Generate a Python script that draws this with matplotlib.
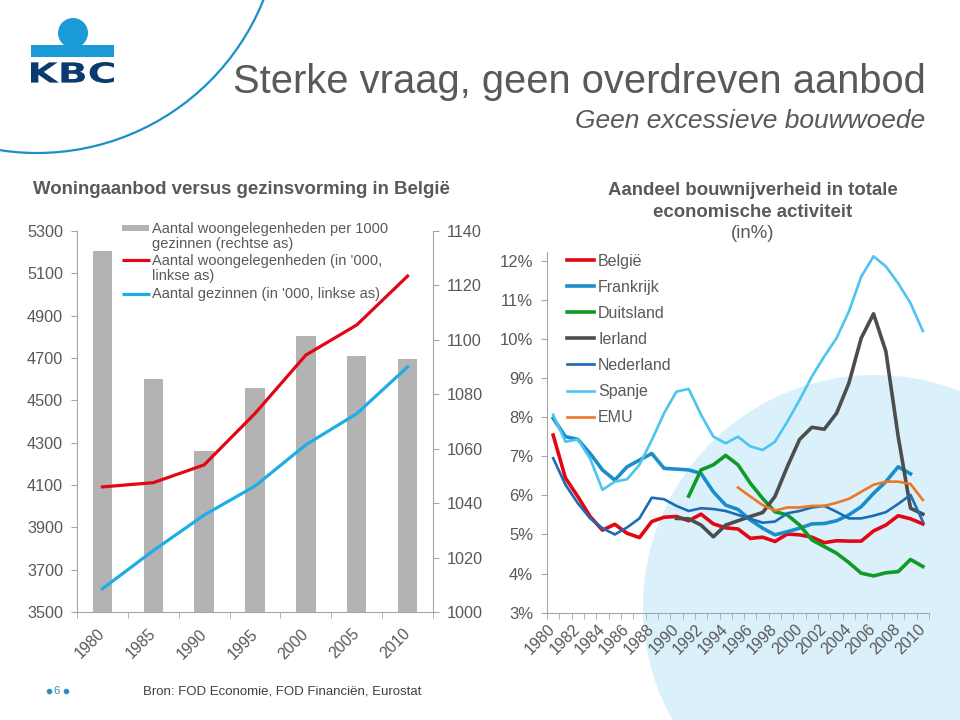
import matplotlib
matplotlib.use('Agg')
import matplotlib.pyplot as plt
import matplotlib.transforms as mtransforms
from matplotlib.patches import Circle, Rectangle, PathPatch
from matplotlib.textpath import TextPath
from matplotlib.font_manager import FontProperties
import numpy as np

plt.rcParams['font.family'] = ['Liberation Sans', 'DejaVu Sans']

TXT = '#595959'
AS_GRIJS = '#a6a6a6'

# --- links: woningaanbod versus gezinsvorming (per 5 jaar)
jaren_5 = ['1980', '1985', '1990', '1995', '2000', '2005', '2010']
per_1000_gezinnen = [1132.6, 1085.7, 1059.2, 1082.3, 1101.4, 1094.2, 1093.0]
woongelegenheden = [4091, 4111, 4195, 4438, 4714, 4856, 5087]
gezinnen = [3610, 3790, 3958, 4095, 4290, 4437, 4658]

# --- rechts: aandeel bouw in economische activiteit (%)
jaren = list(range(1980, 2011))
belgie = [7.54, 6.44, 5.97, 5.46, 5.11, 5.26, 5.03, 4.92, 5.33, 5.44,
          5.46, 5.35, 5.52, 5.27, 5.17, 5.14, 4.90, 4.93, 4.82, 5.01,
          4.99, 4.93, 4.79, 4.84, 4.83, 4.83, 5.09, 5.24, 5.48, 5.40, 5.27]
frankrijk = [7.97, 7.50, 7.43, 7.07, 6.65, 6.39, 6.73, 6.90, 7.07, 6.69,
             6.67, 6.65, 6.56, 6.09, 5.75, 5.64, 5.37, 5.16, 4.99, 5.07,
             5.16, 5.27, 5.28, 5.35, 5.50, 5.71, 6.05, 6.35, 6.73, 6.55, None]
duitsland = [None] * 11 + [
             5.98, 6.65, 6.78, 7.02, 6.78, 6.31, 5.92, 5.58, 5.50,
             5.24, 4.86, 4.69, 4.52, 4.28, 4.01, 3.94, 4.02, 4.05, 4.36, 4.18]
ierland = [None] * 10 + [
           5.41, 5.40, 5.24, 4.94, 5.24, 5.35, 5.46, 5.56, 5.97, 6.73,
           7.43, 7.74, 7.69, 8.10, 8.87, 10.02, 10.64, 9.68, 7.50, 5.67, 5.52]
nederland = [6.95, 6.27, 5.80, 5.41, 5.16, 5.00, 5.18, 5.41, 5.94, 5.90,
             5.73, 5.60, 5.67, 5.65, 5.60, 5.50, 5.40, 5.30, 5.33, 5.54,
             5.60, 5.69, 5.73, 5.58, 5.41, 5.41, 5.48, 5.57, 5.78, 6.01, 5.33]
spanje = [8.06, 7.37, 7.43, 6.94, 6.14, 6.35, 6.41, 6.78, 7.41, 8.10,
          8.65, 8.72, 8.06, 7.50, 7.33, 7.50, 7.25, 7.16, 7.37, 7.88,
          8.44, 9.04, 9.55, 10.02, 10.70, 11.59, 12.11, 11.85, 11.42, 10.91, 10.20]
emu = [None] * 15 + [
       6.20, 5.97, 5.75, 5.61, 5.69, 5.69, 5.73, 5.73, 5.81, 5.91,
       6.09, 6.27, 6.35, 6.35, 6.29, 5.88]

reeksen = [
    ('België', belgie, '#e30613', 2.6),
    ('Frankrijk', frankrijk, '#1b8ec9', 2.6),
    ('Duitsland', duitsland, '#109a26', 2.6),
    ('Ierland', ierland, '#4d4d4d', 2.6),
    ('Nederland', nederland, '#1d6cb3', 1.9),
    ('Spanje', spanje, '#4cc5ef', 1.9),
    ('EMU', emu, '#ee7624', 1.9),
]

ROOD = '#e30613'
CYAAN = '#1eaee6'
BALK = '#b3b3b3'

fig = plt.figure(figsize=(9.6, 7.2), dpi=100)


def fy(py):
    # pixel-y (van boven) naar figuurfractie
    return 1 - py / 720


# achtergrond in pixelcoordinaten: cirkels en logo
bg = fig.add_axes([0, 0, 1, 1], zorder=0)
bg.set_xlim(0, 960)
bg.set_ylim(720, 0)
bg.axis('off')
bg.add_patch(Circle((875, 607), 232, color='#daf1fb', lw=0))
bg.add_patch(Circle((37, -91), 244, fill=False, ec='#1b8fc6', lw=1.6))
bg.add_patch(Circle((73, 33), 15, color='#1a9ad6', lw=0))
bg.add_patch(Rectangle((31, 45), 83, 12, color='#1a9ad6', lw=0))
tp = TextPath((0, 0), 'KBC', prop=FontProperties(family='DejaVu Sans', weight='bold'))
ext = tp.get_extents()
tr = (mtransforms.Affine2D()
      .translate(-ext.x0, -ext.y0)
      .scale(83 / ext.width, -21 / ext.height)
      .translate(31, 83))
bg.add_patch(PathPatch(tr.transform_path(tp), color='#0b3a6e', lw=0))

# titels
fig.text(233 / 960, fy(93), 'Sterke vraag, geen overdreven aanbod',
         fontsize=28.7, color=TXT, ha='left', va='baseline')
fig.text(925 / 960, fy(128), 'Geen excessieve bouwwoede',
         fontsize=19, color=TXT, style='italic', ha='right', va='baseline')
fig.text(33 / 960, fy(194), 'Woningaanbod versus gezinsvorming in België',
         fontsize=13.4, color=TXT, fontweight='bold', ha='left', va='baseline')
fig.text(753 / 960, fy(195), 'Aandeel bouwnijverheid in totale',
         fontsize=13.4, color=TXT, fontweight='bold', ha='center', va='baseline')
fig.text(753 / 960, fy(217), 'economische activiteit',
         fontsize=13.4, color=TXT, fontweight='bold', ha='center', va='baseline')
fig.text(753 / 960, fy(238), '(in%)',
         fontsize=13.4, color=TXT, ha='center', va='baseline')

# voettekst
fig.text(143 / 960, fy(695), 'Bron: FOD Economie, FOD Financiën, Eurostat',
         fontsize=9.5, color='#404040', ha='left', va='baseline')
fig.text(57 / 960, fy(694), '6', fontsize=8, color='#2a8fc0',
         ha='center', va='baseline')
bg.plot([49, 66], [691, 691], 'o', ms=3, color='#2a8fc0')

# --- linker grafiek
ax_l = fig.add_axes([77 / 960, 108 / 720, 356 / 960, 381 / 720])
ax_r = ax_l.twinx()
ax_r.set_zorder(1)
ax_l.set_zorder(2)
ax_l.patch.set_visible(False)
ax_r.patch.set_visible(False)

x5 = np.arange(len(jaren_5))
ax_r.bar(x5, per_1000_gezinnen, width=0.38, color=BALK, zorder=1)
ax_r.set_ylim(1000, 1140)
ax_r.set_yticks(np.arange(1000, 1141, 20))

ax_l.plot(x5, woongelegenheden, color=ROOD, lw=2.3)
ax_l.plot(x5, gezinnen, color=CYAAN, lw=2.3)
ax_l.set_ylim(3500, 5300)
ax_l.set_yticks(np.arange(3500, 5301, 200))
ax_l.set_xlim(-0.5, 6.5)
ax_l.set_xticks(x5)
ax_l.set_xticklabels(jaren_5, rotation=45, ha='right', va='center',
                     rotation_mode='anchor')
ax_l.set_xticks(np.arange(-0.5, 7, 1), minor=True)
shift = mtransforms.ScaledTranslation(3 / 100, 0, fig.dpi_scale_trans)
for lbl in ax_l.get_xticklabels():
    lbl.set_transform(lbl.get_transform() + shift)

for a in (ax_l, ax_r):
    for s in a.spines.values():
        s.set_color(AS_GRIJS)
    a.spines['top'].set_visible(False)
ax_l.spines['right'].set_visible(False)
ax_r.spines['left'].set_visible(False)
ax_r.spines['bottom'].set_visible(False)

ax_l.tick_params(axis='y', direction='out', length=4, color=AS_GRIJS,
                 labelsize=11.7, labelcolor=TXT, pad=6)
ax_r.tick_params(axis='y', direction='out', length=4, color=AS_GRIJS,
                 labelsize=11.7, labelcolor=TXT, pad=6)
ax_l.tick_params(axis='x', which='major', length=0, labelsize=11.3,
                 labelcolor=TXT, pad=14)
ax_l.tick_params(axis='x', which='minor', direction='out', length=4,
                 color=AS_GRIJS)

# legende links, met de hand geplaatst (handle bij eerste regel)
leg_regels = [
    ('Aantal woongelegenheden per 1000', 233),
    ('gezinnen (rechtse as)', 248),
    ("Aantal woongelegenheden (in '000,", 265),
    ('linkse as)', 280),
    ("Aantal gezinnen (in '000, linkse as)", 298),
]
for tekst, basis in leg_regels:
    fig.text(152 / 960, fy(basis), tekst, fontsize=10.5, color=TXT,
             ha='left', va='baseline')
bg.add_patch(Rectangle((122, 225), 27, 5.5, color=BALK, lw=0))
bg.plot([122, 150], [260, 260], color=ROOD, lw=2.3, solid_capstyle='butt')
bg.plot([122, 150], [293.5, 293.5], color=CYAAN, lw=2.3, solid_capstyle='butt')

# --- rechter grafiek
ax2 = fig.add_axes([547 / 960, 107.3 / 720, 382 / 960, 360.7 / 720], zorder=2)
ax2.patch.set_visible(False)
for naam, waarden, kleur, lw in reeksen:
    ax2.plot(jaren, np.array(waarden, dtype=float), color=kleur, lw=lw,
             label=naam, solid_joinstyle='round')
ax2.set_ylim(3, 12.22)
ax2.set_yticks(range(3, 13))
ax2.set_yticklabels([f'{v}%' for v in range(3, 13)])
ax2.set_xlim(1979.5, 2010.5)
ax2.set_xticks(jaren[::2])
ax2.set_xticklabels([str(j) for j in jaren[::2]], rotation=45, ha='right',
                    va='center', rotation_mode='anchor')
ax2.set_xticks(np.arange(1979.5, 2011, 1), minor=True)
for s in ('top', 'right'):
    ax2.spines[s].set_visible(False)
for s in ('left', 'bottom'):
    ax2.spines[s].set_color(AS_GRIJS)
ax2.tick_params(axis='y', direction='out', length=4, color=AS_GRIJS,
                labelsize=12, labelcolor=TXT, pad=6)
ax2.tick_params(axis='x', which='major', length=0, labelsize=11.5,
                labelcolor=TXT, pad=10)
ax2.tick_params(axis='x', which='minor', direction='out', length=4,
                color=AS_GRIJS)
ax2.legend(loc='upper left', bbox_to_anchor=(567 / 960, fy(254)),
           bbox_transform=fig.transFigure, frameon=False, fontsize=11.5,
           handlelength=1.7, handletextpad=0.25, labelspacing=0.69,
           borderpad=0, borderaxespad=0, labelcolor=TXT)

fig.savefig('out.png', dpi=100)
